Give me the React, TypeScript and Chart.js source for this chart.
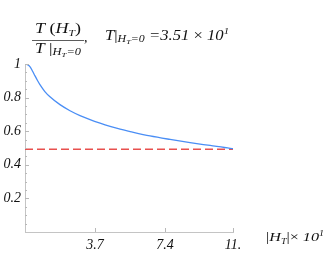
import React, { useEffect, useRef } from "react";
import { Chart, registerables } from "chart.js";

Chart.register(...registerables);

// ---- data ----
const curveX = [0, 0.13, 0.26, 0.4, 0.53, 0.66, 0.79, 1.05, 1.32, 1.85, 2.38, 2.91, 3.44, 3.97, 4.5, 5.03, 5.56, 6.61, 7.67, 8.73, 9.79, 10.85, 11.0];
const curveY = [1.0, 0.996, 0.984, 0.957, 0.929, 0.902, 0.877, 0.836, 0.805, 0.758, 0.722, 0.693, 0.669, 0.648, 0.629, 0.612, 0.598, 0.572, 0.551, 0.532, 0.515, 0.498, 0.496];
const refX = [0, 11];
const refY = [0.492, 0.492];
const xTickValues = [3.7, 7.4, 11];
const xTickLabels = ["3.7", "7.4", "11."];
const yTickValues = [0.2, 0.4, 0.6, 0.8, 1];
const yTickLabels = ["0.2", "0.4", "0.6", "0.8", "1"];
const yMinorStep = 0.05;

type Part = { t: string; size: number; italic?: boolean; dy?: number };

function drawRich(ctx: CanvasRenderingContext2D, x: number, y: number, parts: Part[], targetWidth?: number, align: "left" | "center" = "left") {
  ctx.save();
  ctx.textBaseline = "alphabetic";
  ctx.textAlign = "left";
  let w = 0;
  const widths: number[] = [];
  for (const p of parts) {
    ctx.font = `${p.italic ? "italic " : ""}${p.size}px "Liberation Serif", serif`;
    const m = ctx.measureText(p.t).width;
    widths.push(m);
    w += m;
  }
  const sx = targetWidth ? targetWidth / w : 1;
  const startX = align === "center" ? x - (w * sx) / 2 : x;
  ctx.translate(startX, y);
  ctx.scale(sx, 1);
  let cx = 0;
  parts.forEach((p, i) => {
    ctx.font = `${p.italic ? "italic " : ""}${p.size}px "Liberation Serif", serif`;
    ctx.fillStyle = "#111";
    ctx.fillText(p.t, cx, p.dy || 0);
    cx += widths[i];
  });
  ctx.restore();
}

const annotPlugin = {
  id: "annot",
  afterDraw(chart: any) {
    const ctx: CanvasRenderingContext2D = chart.ctx;
    const xs = chart.scales.x;
    const ys = chart.scales.y;
    const area = chart.chartArea;
    // inward ticks
    ctx.save();
    ctx.strokeStyle = "#b8b8b8";
    ctx.lineWidth = 1;
    ctx.beginPath();
    for (let v = yMinorStep; v <= 1.0001; v += yMinorStep) {
      const py = Math.round(ys.getPixelForValue(v)) + 0.5;
      const major = yTickValues.some((t) => Math.abs(t - v) < 1e-6);
      ctx.moveTo(area.left, py);
      ctx.lineTo(area.left + (major ? 4 : 2), py);
    }
    for (const v of xTickValues) {
      const px = Math.round(xs.getPixelForValue(v)) + 0.5;
      ctx.moveTo(px, area.bottom);
      ctx.lineTo(px, area.bottom - 4);
    }
    ctx.stroke();
    ctx.restore();

    // title: fraction
    drawRich(ctx, 58, 33, [
      { t: "T", size: 14, italic: true },
      { t: " (", size: 14 },
      { t: "H", size: 14, italic: true },
      { t: "T", size: 9, italic: true, dy: 3 },
      { t: ")", size: 14 },
    ], 46, "center");
    ctx.save();
    ctx.strokeStyle = "#333";
    ctx.lineWidth = 0.8;
    ctx.beginPath();
    ctx.moveTo(32, 40.5);
    ctx.lineTo(84, 40.5);
    ctx.stroke();
    ctx.restore();
    drawRich(ctx, 58, 53, [
      { t: "T", size: 14, italic: true },
      { t: " |", size: 14 },
      { t: "H", size: 10, italic: true, dy: 2 },
      { t: "T", size: 7, italic: true, dy: 4 },
      { t: "=0", size: 10, italic: true, dy: 2 },
    ], 46, "center");
    drawRich(ctx, 84, 42, [{ t: ",", size: 14 }]);
    drawRich(ctx, 105, 40, [
      { t: "T", size: 14, italic: true },
      { t: "|", size: 14 },
      { t: "H", size: 10, italic: true, dy: 2 },
      { t: "T", size: 7, italic: true, dy: 4 },
      { t: "=0", size: 10, italic: true, dy: 2 },
      { t: " =3.51", size: 14, italic: true },
      { t: " × ", size: 14 },
      { t: "10", size: 14, italic: true },
      { t: "1", size: 9, italic: true, dy: -6 },
    ], 124);
    // x axis label
    drawRich(ctx, 266, 241, [
      { t: "|", size: 13 },
      { t: "H", size: 13, italic: true },
      { t: "T", size: 8, italic: true, dy: 3 },
      { t: "|", size: 13 },
      { t: "×", size: 13 },
      { t: " 10", size: 13, italic: true },
      { t: "1", size: 8, italic: true, dy: -5 },
    ], 58);
  },
};

export default function App() {
  const ref = useRef<HTMLCanvasElement>(null);
  useEffect(() => {
    if (!ref.current) return;
    const chart = new Chart(ref.current, {
      type: "line",
      data: {
        datasets: [
          {
            data: curveX.map((x, i) => ({ x, y: curveY[i] })),
            borderColor: "#4a8ef5",
            borderWidth: 1.3,
            pointRadius: 0,
            cubicInterpolationMode: "monotone",
            fill: false,
          },
          {
            data: refX.map((x, i) => ({ x, y: refY[i] })),
            borderColor: "#e8504e",
            borderWidth: 1.5,
            borderDash: [8, 4],
            pointRadius: 0,
            fill: false,
          },
        ],
      },
      options: {
        responsive: false,
        animation: false,
        events: [],
        layout: { padding: { left: 3, right: 94, top: 64, bottom: 21 } },
        plugins: { legend: { display: false }, tooltip: { enabled: false }, title: { display: false } },
        scales: {
          x: {
            type: "linear",
            min: 0,
            max: 11,
            grid: { display: false, drawTicks: false, tickLength: 0 },
            border: { display: true, color: "#c4c4c4", width: 1 },
            afterFit: (s: any) => { s.height = 20; },
            afterBuildTicks: (s: any) => { s.ticks = xTickValues.map((v) => ({ value: v })); },
            ticks: {
              autoSkip: false,
              maxRotation: 0,
              padding: 5,
              color: "#111",
              font: { family: '"Liberation Serif", serif', size: 14, style: "italic" },
              callback: (v: any) => {
                const i = xTickValues.findIndex((t) => Math.abs(t - v) < 1e-6);
                return i >= 0 ? xTickLabels[i] : "";
              },
            },
          },
          y: {
            type: "linear",
            min: 0,
            max: 1,
            grid: { display: false, drawTicks: false, tickLength: 0 },
            border: { display: true, color: "#c4c4c4", width: 1 },
            afterFit: (s: any) => { s.width = 22; },
            afterBuildTicks: (s: any) => { s.ticks = yTickValues.map((v) => ({ value: v })); },
            ticks: {
              autoSkip: false,
              padding: 4,
              color: "#111",
              font: { family: '"Liberation Serif", serif', size: 14, style: "italic" },
              callback: (v: any) => {
                const i = yTickValues.findIndex((t) => Math.abs(t - v) < 1e-6);
                return i >= 0 ? yTickLabels[i] : "";
              },
            },
          },
        },
      },
      plugins: [annotPlugin],
    } as any);
    return () => chart.destroy();
  }, []);
  return (
    <div style={{ position: "fixed", left: 0, top: 0, width: 327, height: 273, background: "#fff" }}>
      <canvas ref={ref} width={327} height={273} style={{ display: "block" }} />
    </div>
  );
}
